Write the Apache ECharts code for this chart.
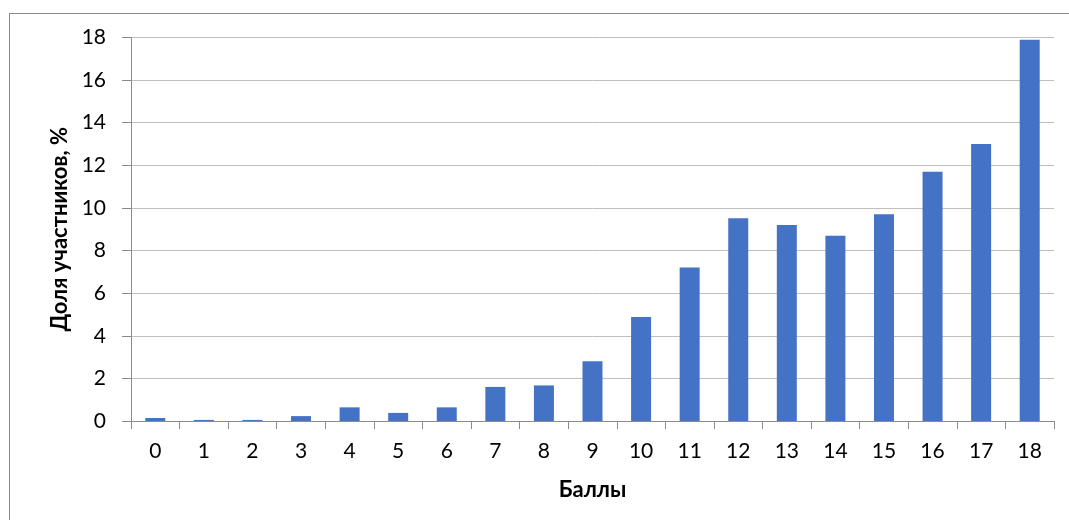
<!DOCTYPE html>
<html><head><meta charset="utf-8">
<script src="https://cdn.jsdelivr.net/npm/echarts@6/dist/echarts.min.js"></script>
<style>html,body{margin:0;padding:0;background:#fff}#c{width:1069px;height:520px;position:relative}
#frame{position:absolute;left:9px;top:13px;width:1080px;height:520px;border-left:1px solid #8c8c8c;border-top:1px solid #8c8c8c;pointer-events:none}</style>
</head><body><div id="c"></div><div id="frame"></div>
<script>
const categories = ['0','1','2','3','4','5','6','7','8','9','10','11','12','13','14','15','16','17','18'];
const values = [0.14,0.05,0.05,0.23,0.64,0.38,0.64,1.6,1.67,2.8,4.88,7.2,9.52,9.2,8.7,9.7,11.7,13.0,17.9];
const yTicks = [0,2,4,6,8,10,12,14,16,18];
const chart = echarts.init(document.getElementById('c'), null, {renderer:'canvas'});
const font = 'Lato, "Open Sans", sans-serif';
chart.setOption({
  animation:false,
  grid:{left:131,right:15,top:37.5,bottom:99,containLabel:false},
  xAxis:{type:'category',data:categories,name:'Баллы',nameLocation:'middle',nameGap:58,
    nameTextStyle:{fontFamily:font,fontSize:22,fontWeight:'bold',color:'#000'},
    axisLine:{lineStyle:{color:'#8c8c8c',width:1}},
    axisTick:{show:true,length:8,lineStyle:{color:'#8c8c8c'}},
    axisLabel:{fontFamily:font,fontSize:21,color:'#000',margin:20}},
  yAxis:{type:'value',min:0,max:yTicks[yTicks.length-1],interval:2,name:'Доля участников, %',nameLocation:'middle',nameGap:58,
    nameTextStyle:{fontFamily:font,fontSize:22,fontWeight:'bold',color:'#000'},
    axisLine:{show:true,lineStyle:{color:'#8c8c8c',width:1}},
    axisTick:{show:true,length:9,lineStyle:{color:'#8c8c8c'}},
    axisLabel:{fontFamily:font,fontSize:21,color:'#000',margin:25},
    splitLine:{lineStyle:{color:'#bfbfbf',width:1}}},
  series:[{type:'bar',data:values,barWidth:20,itemStyle:{color:'#4472C4'}}]
});
</script></body></html>
